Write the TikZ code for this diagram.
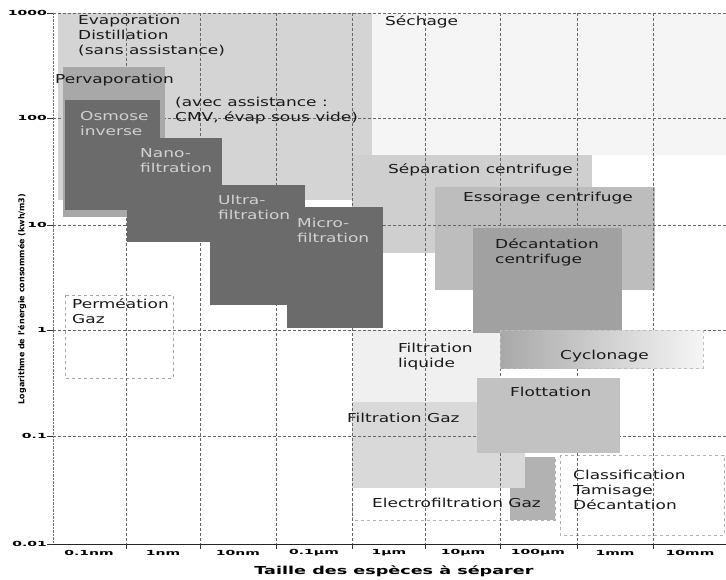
\documentclass[tikz,border=0pt]{standalone}
\usepackage{fontspec}
\setmainfont{DejaVu Sans}
\newfontfamily\boxfont[FakeStretch=1.38]{DejaVu Sans}
\newfontfamily\tickfont[FakeStretch=2.0]{DejaVu Sans}
\newfontfamily\titlefont[FakeStretch=1.6]{DejaVu Sans}
\begin{document}
\begin{tikzpicture}[x=1pt, y=-1pt,
    dark/.style = {fill=black!58},
    lbl/.style = {anchor=north west, inner sep=0pt, align=left, text=black!90,
      font=\boxfont\fontsize{12.3}{15}\selectfont},
    wlbl/.style = {lbl, text=black!18},
    grid/.style = {black!60, densely dashed, line width=.5pt},
    tick/.style = {inner sep=0pt, font=\tickfont\bfseries\fontsize{7}{8}\selectfont}]
  \useasboundingbox (0,0) rectangle (726,580);
  \fill[white] (0,0) rectangle (726,580);

  \fill[black!4] (372,13) rectangle (726,155);
  \fill[black!17] (58,13) rectangle (372,200);
  \fill[black!19] (352,155) rectangle (592,253);
  \fill[black!26] (435,187) rectangle (655,290);
  \fill[black!6] (353,330) rectangle (500,402);
  \draw[black!30, dashed] (352,457) rectangle (555,520);
  \fill[black!30] (510,457) rectangle (555,520);
  \fill[black!15] (352,402) rectangle (525,488);
  \draw[black!30, dashed] (560,455) rectangle (724,535);
  \draw[black!35, dashed] (65,295) rectangle (173,378);

  \foreach \x in {126,200,276,352,425,500,577,653}
    \draw[grid] (\x,13) -- (\x,544);
  \foreach \y in {13,118,225,330,436}
    \draw[grid] (53,\y) -- (726,\y);
  \draw[black!55, densely dotted] (53,13) -- (53,544);
  \draw[black!85, line width=.7pt] (53,544) -- (726,544);

  \fill[black!34] (63,67) rectangle (165,217);
  \fill[dark] (65,100) rectangle (160,210);
  \fill[dark] (127,138) rectangle (222,242);
  \fill[dark] (210,185) rectangle (305,305);
  \fill[dark] (287,207) rectangle (383,328);
  \fill[black!37] (473,228) rectangle (622,333);
  \shade[left color=black!34, middle color=black!22, right color=black!4, draw=black!25, dashed]
    (500,330) rectangle (703,368);
  \fill[black!24] (477,378) rectangle (620,453);

  \node[lbl] (evap) at (78,15) {Evaporation\\Distillation\\(sans assistance)};
  \node[lbl] (sech) at (385,15) {Séchage};
  \node[lbl] (perv) at (55,74) {Pervaporation};
  \node[lbl] (avec) at (175,97) {(avec assistance :\\CMV, évap sous vide)};
  \node[wlbl] (osm) at (80,111) {Osmose\\inverse};
  \node[wlbl] (nano) at (140,148) {Nano-\\filtration};
  \node[wlbl] (ultra) at (218,195) {Ultra-\\filtration};
  \node[wlbl] (micro) at (297,218) {Micro-\\filtration};
  \node[lbl] (sep) at (388,163) {Séparation centrifuge};
  \node[lbl] (ess) at (463,192) {Essorage centrifuge};
  \node[lbl] (dec) at (495,238) {Décantation\\centrifuge};
  \node[lbl] (perm) at (72,298) {Perméation\\Gaz};
  \node[lbl] (fliq) at (398,343) {Filtration\\liquide};
  \node[lbl] (cyc) at (560,350) {Cyclonage};
  \node[lbl] (flot) at (510,387) {Flottation};
  \node[lbl] (fgaz) at (347,413) {Filtration Gaz};
  \node[lbl] (elec) at (372,498) {Electrofiltration Gaz};
  \node[lbl] (class) at (573,470) {Classification\\Tamisage\\Décantation};

  \foreach \y/\t in {13/1000,118/100,225/10,330/1,436/0.1,544/0.01} {
    \draw[black!80] (47,\y) -- (53,\y);
    \node[tick, anchor=east] (y\t) at (47,\y) {\t};
  }
  \foreach \x in {126,200,276,352,425,500,577,653}
    \draw[black!80] (\x,544) -- (\x,549);
  \foreach \x/\t [count=\i] in {89/0.1nm,163/1nm,238/10nm,314/0.1µm,389/1µm,463/10µm,538/100µm,615/1mm,690/10mm}
    \node[tick] (x\i) at (\x,553) {\t};

  \node[inner sep=0pt, font=\titlefont\bfseries\fontsize{11}{12}\selectfont] (xtitle) at (394,571)
    {Taille des espèces à séparer};
  \node[inner sep=0pt, rotate=90, font=\bfseries\fontsize{8}{9}\selectfont] (ytitle) at (22,299)
    {Logarithme de l'énergie consommée (kwh/m3)};
\end{tikzpicture}
\end{document}
